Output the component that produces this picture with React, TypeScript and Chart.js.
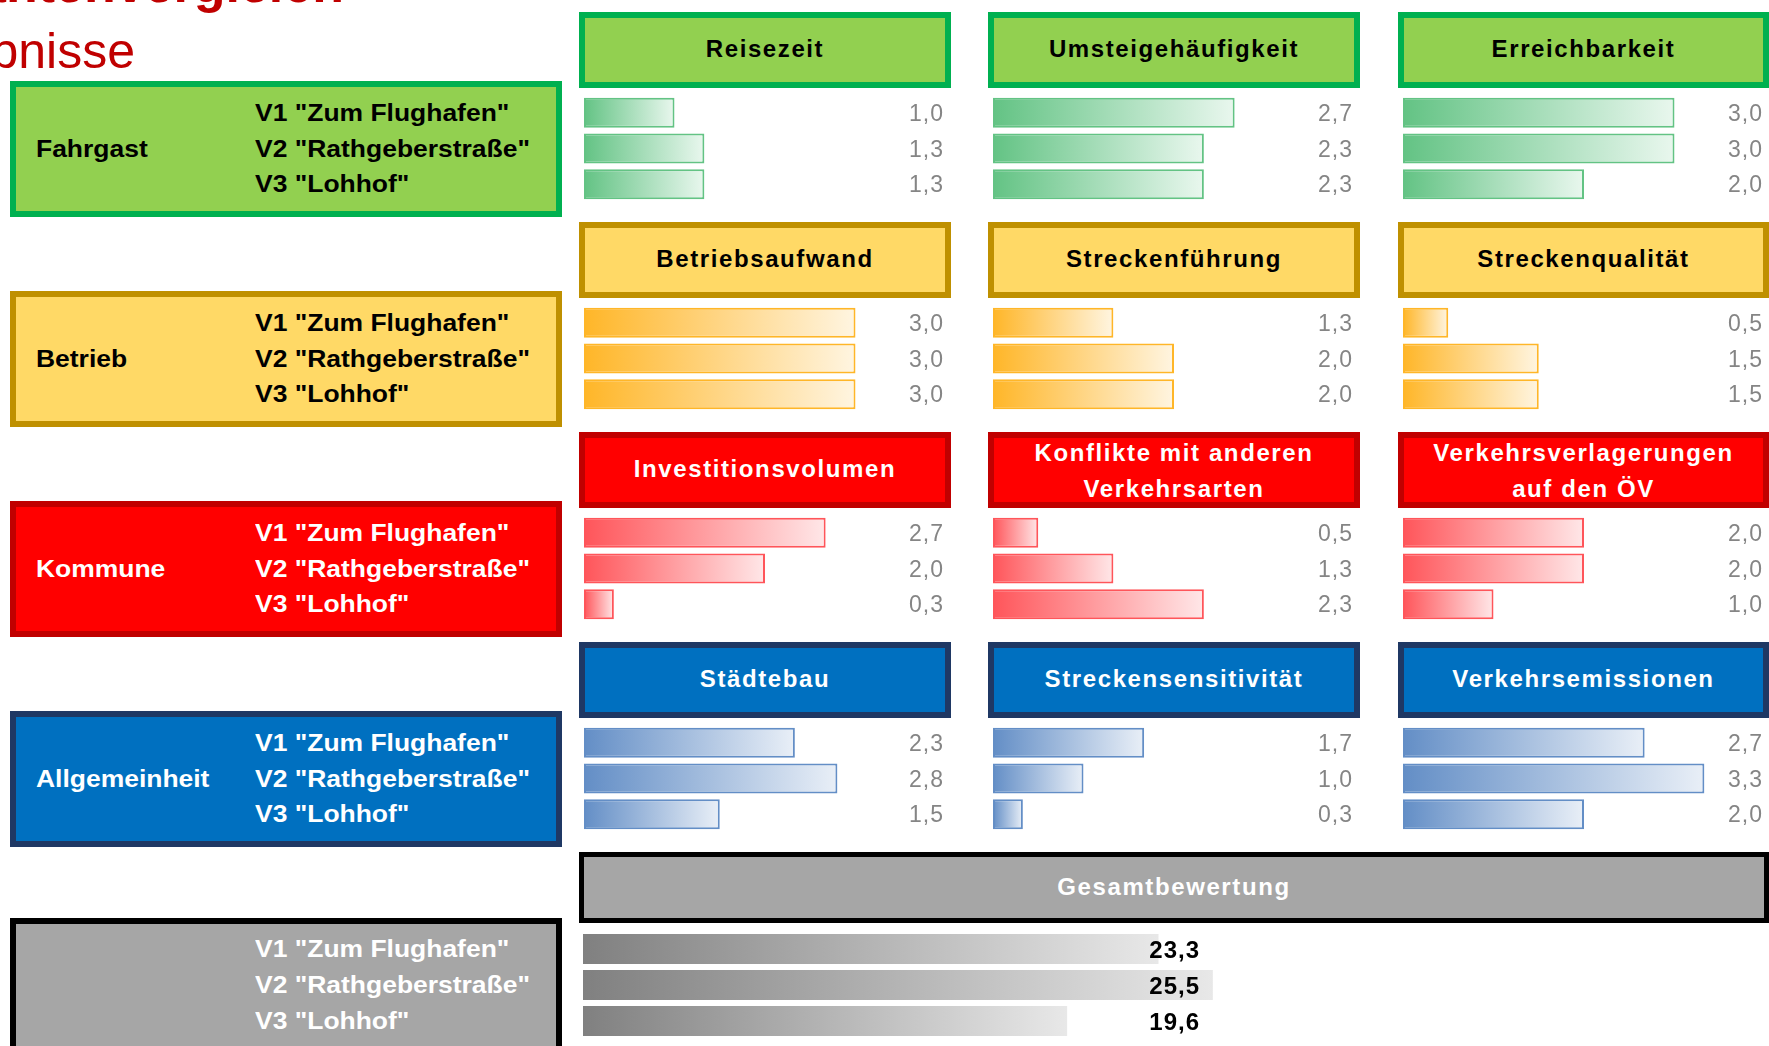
import React, { useEffect, useRef } from 'react';
import { Chart, registerables } from 'chart.js';

Chart.register(...registerables);

// ---------- data ----------
const variantLabels = ['V1 "Zum Flughafen"', 'V2 "Rathgeberstraße"', 'V3 "Lohhof"'];
const groupNames = ['Fahrgast', 'Betrieb', 'Kommune', 'Allgemeinheit'];
const criteriaFahrgast = ['Reisezeit', 'Umsteigehäufigkeit', 'Erreichbarkeit'];
const criteriaBetrieb = ['Betriebsaufwand', 'Streckenführung', 'Streckenqualität'];
const criteriaKommune = ['Investitionsvolumen', 'Konflikte mit anderen\nVerkehrsarten', 'Verkehrsverlagerungen\nauf den ÖV'];
const criteriaAllgemeinheit = ['Städtebau', 'Streckensensitivität', 'Verkehrsemissionen'];
const totalTitle = 'Gesamtbewertung';

const reisezeit = [1.0, 1.33, 1.33];
const umsteigehaeufigkeit = [2.67, 2.33, 2.33];
const erreichbarkeit = [3.0, 3.0, 2.0];
const betriebsaufwand = [3.0, 3.0, 3.0];
const streckenfuehrung = [1.33, 2.0, 2.0];
const streckenqualitaet = [0.5, 1.5, 1.5];
const investitionsvolumen = [2.67, 2.0, 0.33];
const konflikte = [0.5, 1.33, 2.33];
const verkehrsverlagerungen = [2.0, 2.0, 1.0];
const staedtebau = [2.33, 2.8, 1.5];
const streckensensitivitaet = [1.67, 1.0, 0.33];
const verkehrsemissionen = [2.67, 3.33, 2.0];
const gesamtbewertung = [23.3, 25.5, 19.6];

const criteriaRows = [criteriaFahrgast, criteriaBetrieb, criteriaKommune, criteriaAllgemeinheit];
const valueRows = [
  [reisezeit, umsteigehaeufigkeit, erreichbarkeit],
  [betriebsaufwand, streckenfuehrung, streckenqualitaet],
  [investitionsvolumen, konflikte, verkehrsverlagerungen],
  [staedtebau, streckensensitivitaet, verkehrsemissionen],
];

// ---------- styling ----------
const FONT = '"Liberation Sans", Arial, Helvetica, sans-serif';
const groupFill = ['#92d050', '#ffd966', '#ff0000', '#0070c0'];
const groupBorder = ['#00b050', '#bf9000', '#c00000', '#1f3864'];
const groupText = ['#000000', '#000000', '#ffffff', '#ffffff'];
const barColor = ['#63c384', '#ffb628', '#ff555a', '#638ec6'];

function mixWhite(hex: string, t: number) {
  const n = parseInt(hex.slice(1), 16);
  const r = (n >> 16) & 255, g = (n >> 8) & 255, b = n & 255;
  const m = (c: number) => Math.round(c * (1 - t) + 255 * t);
  return `rgb(${m(r)},${m(g)},${m(b)})`;
}

const colLefts = [579, 988, 1398];
const colWidths = [372, 372, 371];
const rowTops = [12, 222, 432, 642];
const HEADER_H = 76;

type BarProps = {
  values: number[];
  max: number;
  color: string;
  endColor: string;
  borderColor: string | null;
  left: number;
  top: number;
  width: number;
  height: number;
  labelX: number;
  font: string;
  fontSize: number;
  labelColor: string;
  letterSpacing: string;
};

function BarChart(p: BarProps) {
  const ref = useRef<HTMLCanvasElement>(null);
  useEffect(() => {
    const canvas = ref.current;
    if (!canvas) return;
    const labelPlugin = {
      id: 'valueLabels',
      afterDatasetsDraw(chart: any) {
        const ctx = chart.ctx as CanvasRenderingContext2D;
        const meta = chart.getDatasetMeta(0);
        ctx.save();
        ctx.font = p.font;
        try { (ctx as any).letterSpacing = p.letterSpacing; } catch (e) { /* ignore */ }
        ctx.fillStyle = p.labelColor;
        ctx.textAlign = 'right';
        ctx.textBaseline = 'alphabetic';
        meta.data.forEach((el: any, i: number) => {
          const v = p.values[i];
          ctx.fillText(v.toFixed(1).replace('.', ','), p.labelX, el.y + p.fontSize * 0.358);
        });
        ctx.restore();
      },
    };
    const chart = new Chart(canvas, {
      type: 'bar',
      data: {
        labels: variantLabels,
        datasets: [
          {
            data: p.values,
            backgroundColor: (c: any) => {
              const ch = c.chart;
              if (c.type !== 'data' || !ch.chartArea) return p.color;
              const xs = ch.scales.x;
              const x0 = xs.getPixelForValue(0);
              const x1 = xs.getPixelForValue(c.raw as number);
              const g = ch.ctx.createLinearGradient(x0, 0, Math.max(x1, x0 + 1), 0);
              g.addColorStop(0, p.color);
              g.addColorStop(1, p.endColor);
              return g;
            },
            borderColor: p.borderColor || 'rgba(0,0,0,0)',
            borderWidth: p.borderColor ? 2 : 0,
            borderSkipped: false,
            barPercentage: 0.84,
            categoryPercentage: 1,
          } as any,
        ],
      },
      options: {
        indexAxis: 'y',
        animation: false,
        responsive: false,
        events: [],
        layout: { padding: 0 },
        plugins: { legend: { display: false }, tooltip: { enabled: false } },
        scales: {
          x: { display: false, min: 0, max: p.max },
          y: { display: false },
        },
      },
      plugins: [labelPlugin],
    });
    return () => chart.destroy();
  }, []);
  return (
    <canvas
      ref={ref}
      width={p.width}
      height={p.height}
      style={{ position: 'absolute', left: p.left, top: p.top, width: p.width, height: p.height }}
    />
  );
}

function Box(props: { left: number; top: number; width: number; height: number; fill: string; border: string; bw: number; children?: React.ReactNode; color?: string }) {
  return (
    <div
      style={{
        position: 'absolute',
        left: props.left,
        top: props.top,
        width: props.width,
        height: props.height,
        boxSizing: 'border-box',
        background: props.fill,
        border: `${props.bw}px solid ${props.border}`,
        display: 'flex',
        alignItems: 'center',
        justifyContent: 'center',
        textAlign: 'center',
        color: props.color || '#000',
        fontFamily: FONT,
        fontWeight: 'bold',
        fontSize: 24,
        letterSpacing: '1.6px',
        lineHeight: '36px',
        whiteSpace: 'pre-line',
      }}
    >
      {props.children}
    </div>
  );
}

function TextLine(props: { left: number; center: number; text: string; color: string }) {
  return (
    <div
      style={{
        position: 'absolute',
        left: props.left,
        top: props.center - 18,
        height: 36,
        lineHeight: '36px',
        fontFamily: FONT,
        fontWeight: 'bold',
        fontSize: 23,
        color: props.color,
        whiteSpace: 'nowrap',
        transform: 'scaleX(1.15)',
        transformOrigin: 'left center',
      }}
    >
      {props.text}
    </div>
  );
}

export default function App() {
  useEffect(() => {
    document.body.style.margin = '0';
  }, []);

  const elements: React.ReactNode[] = [];

  groupNames.forEach((name, r) => {
    const rowTop = rowTops[r];
    const boxTop = rowTop + 69;
    // left group box
    elements.push(
      <Box key={`lb${r}`} left={10} top={boxTop} width={552} height={136} fill={groupFill[r]} border={groupBorder[r]} bw={6} />
    );
    elements.push(<TextLine key={`ln${r}`} left={36} center={boxTop + 68} text={name} color={groupText[r]} />);
    variantLabels.forEach((v, i) => {
      const c = rowTop + 83 + 17.875 + i * 35.75;
      elements.push(<TextLine key={`lv${r}${i}`} left={255} center={c} text={v} color={groupText[r]} />);
    });
    // criteria
    criteriaRows[r].forEach((crit, c) => {
      elements.push(
        <Box key={`h${r}${c}`} left={colLefts[c]} top={rowTop} width={colWidths[c]} height={HEADER_H} fill={groupFill[r]} border={groupBorder[r]} bw={6} color={groupText[r]}>
          <span style={{ position: 'relative', top: crit.includes('\n') ? 1 : -1 }}>{crit}</span>
        </Box>
      );
      elements.push(
        <BarChart
          key={`b${r}${c}`}
          values={valueRows[r][c]}
          max={4}
          color={barColor[r]}
          endColor={mixWhite(barColor[r], 0.86)}
          borderColor={barColor[r]}
          left={colLefts[c] + 5}
          top={rowTop + 83}
          width={362}
          height={107}
          labelX={360}
          font={`23px ${FONT}`}
          fontSize={23}
          labelColor="#858585"
          letterSpacing="1px"
        />
      );
    });
  });

  // total
  elements.push(
    <Box key="gl" left={10} top={918} width={552} height={150} fill="#a6a6a6" border="#000000" bw={6} />
  );
  variantLabels.forEach((v, i) => {
    elements.push(<TextLine key={`gv${i}`} left={255} center={949 + i * 36} text={v} color="#ffffff" />);
  });
  elements.push(
    <Box key="gh" left={579} top={852} width={1190} height={71} fill="#a6a6a6" border="#000000" bw={5} color="#ffffff">
      <span style={{ position: 'relative', top: -1 }}>{totalTitle}</span>
    </Box>
  );
  elements.push(
    <BarChart
      key="gb"
      values={gesamtbewertung}
      max={30}
      color="#808080"
      endColor="#e8e8e8"
      borderColor={null}
      left={583}
      top={931}
      width={741}
      height={108}
      labelX={617}
      font={`bold 24px ${FONT}`}
      fontSize={24}
      labelColor="#000000"
      letterSpacing="1px"
    />
  );

  return (
    <div
      style={{
        position: 'fixed',
        left: 0,
        top: 0,
        width: 1769,
        height: 1046,
        overflow: 'hidden',
        background: '#ffffff',
        fontFamily: FONT,
      }}
    >
      <div
        style={{
          position: 'absolute',
          right: 1769 - 344,
          top: 8 - 52 * 0.905 - 6,
          fontFamily: FONT,
          fontWeight: 'bold',
          fontSize: 52,
          lineHeight: '58px',
          color: '#c00000',
          whiteSpace: 'nowrap',
        }}
      >
        Variantenvergleich
      </div>
      <div
        style={{
          position: 'absolute',
          right: 1769 - 135,
          top: 73 - 50 * 0.905 - 5,
          fontFamily: FONT,
          fontSize: 50,
          lineHeight: '57px',
          color: '#c00000',
          whiteSpace: 'nowrap',
        }}
      >
        Ergebnisse
      </div>
      {elements}
    </div>
  );
}
